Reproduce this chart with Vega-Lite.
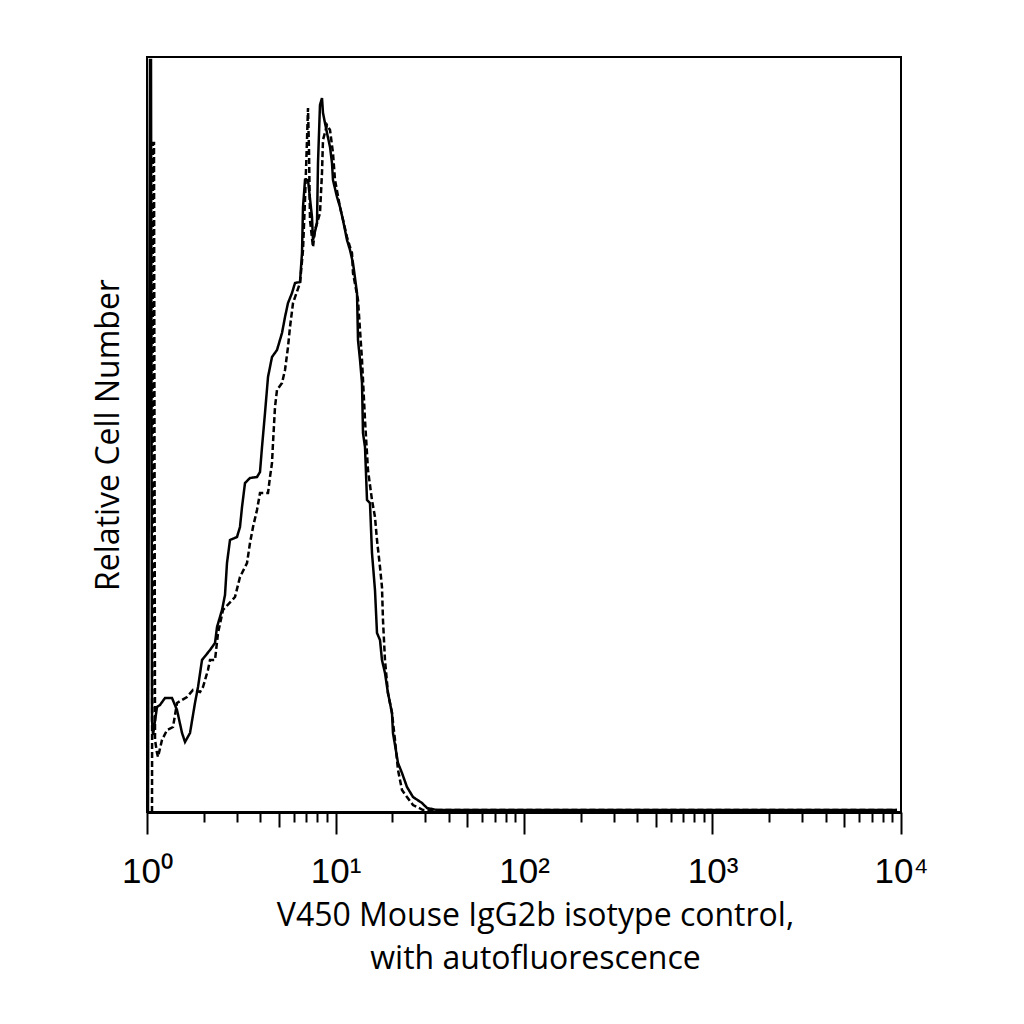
{
  "$schema": "https://vega.github.io/schema/vega-lite/v6.json",
  "autosize": "none",
  "width": 754,
  "height": 755,
  "padding": {"left": 147, "top": 57, "right": 123, "bottom": 212},
  "background": "white",
  "data": {
    "values": [
      {"series": "solid", "fl": 1.012, "count": 0},
      {"series": "solid", "fl": 1.037, "count": 752},
      {"series": "solid", "fl": 1.050, "count": 752},
      {"series": "solid", "fl": 1.063, "count": 92},
      {"series": "solid", "fl": 1.076, "count": 77},
      {"series": "solid", "fl": 1.130, "count": 105},
      {"series": "solid", "fl": 1.172, "count": 107},
      {"series": "solid", "fl": 1.246, "count": 114},
      {"series": "solid", "fl": 1.357, "count": 114},
      {"series": "solid", "fl": 1.443, "count": 102},
      {"series": "solid", "fl": 1.534, "count": 79},
      {"series": "solid", "fl": 1.591, "count": 70},
      {"series": "solid", "fl": 1.691, "count": 79},
      {"series": "solid", "fl": 1.797, "count": 109},
      {"series": "solid", "fl": 1.865, "count": 125},
      {"series": "solid", "fl": 1.958, "count": 152},
      {"series": "solid", "fl": 2.159, "count": 162},
      {"series": "solid", "fl": 2.295, "count": 169},
      {"series": "solid", "fl": 2.352, "count": 185},
      {"series": "solid", "fl": 2.500, "count": 202},
      {"series": "solid", "fl": 2.593, "count": 217},
      {"series": "solid", "fl": 2.657, "count": 249},
      {"series": "solid", "fl": 2.756, "count": 272},
      {"series": "solid", "fl": 3.002, "count": 275},
      {"series": "solid", "fl": 3.114, "count": 285},
      {"series": "solid", "fl": 3.192, "count": 305},
      {"series": "solid", "fl": 3.311, "count": 329},
      {"series": "solid", "fl": 3.519, "count": 334},
      {"series": "solid", "fl": 3.833, "count": 335},
      {"series": "solid", "fl": 3.976, "count": 340},
      {"series": "solid", "fl": 4.075, "count": 365},
      {"series": "solid", "fl": 4.227, "count": 399},
      {"series": "solid", "fl": 4.385, "count": 435},
      {"series": "solid", "fl": 4.604, "count": 455},
      {"series": "solid", "fl": 4.894, "count": 462},
      {"series": "solid", "fl": 5.203, "count": 479},
      {"series": "solid", "fl": 5.397, "count": 495},
      {"series": "solid", "fl": 5.598, "count": 509},
      {"series": "solid", "fl": 5.879, "count": 519},
      {"series": "solid", "fl": 6.098, "count": 529},
      {"series": "solid", "fl": 6.482, "count": 530},
      {"series": "solid", "fl": 6.642, "count": 559},
      {"series": "solid", "fl": 6.724, "count": 605},
      {"series": "solid", "fl": 6.890, "count": 632},
      {"series": "solid", "fl": 7.147, "count": 632},
      {"series": "solid", "fl": 7.504, "count": 595},
      {"series": "solid", "fl": 7.596, "count": 572},
      {"series": "solid", "fl": 7.977, "count": 589},
      {"series": "solid", "fl": 8.075, "count": 649},
      {"series": "solid", "fl": 8.274, "count": 707},
      {"series": "solid", "fl": 8.479, "count": 714},
      {"series": "solid", "fl": 8.583, "count": 699},
      {"series": "solid", "fl": 9.015, "count": 679},
      {"series": "solid", "fl": 9.352, "count": 665},
      {"series": "solid", "fl": 9.581, "count": 649},
      {"series": "solid", "fl": 9.698, "count": 632},
      {"series": "solid", "fl": 10.186, "count": 615},
      {"series": "solid", "fl": 10.565, "count": 605},
      {"series": "solid", "fl": 10.959, "count": 592},
      {"series": "solid", "fl": 11.508, "count": 572},
      {"series": "solid", "fl": 11.937, "count": 562},
      {"series": "solid", "fl": 12.382, "count": 549},
      {"series": "solid", "fl": 13.005, "count": 519},
      {"series": "solid", "fl": 13.163, "count": 472},
      {"series": "solid", "fl": 13.490, "count": 452},
      {"series": "solid", "fl": 13.823, "count": 429},
      {"series": "solid", "fl": 13.990, "count": 379},
      {"series": "solid", "fl": 14.339, "count": 365},
      {"series": "solid", "fl": 14.694, "count": 312},
      {"series": "solid", "fl": 15.240, "count": 309},
      {"series": "solid", "fl": 15.616, "count": 259},
      {"series": "solid", "fl": 16.198, "count": 222},
      {"series": "solid", "fl": 16.601, "count": 179},
      {"series": "solid", "fl": 17.220, "count": 172},
      {"series": "solid", "fl": 17.643, "count": 152},
      {"series": "solid", "fl": 18.301, "count": 139},
      {"series": "solid", "fl": 18.983, "count": 119},
      {"series": "solid", "fl": 19.937, "count": 99},
      {"series": "solid", "fl": 20.180, "count": 79},
      {"series": "solid", "fl": 21.198, "count": 55},
      {"series": "solid", "fl": 21.458, "count": 49},
      {"series": "solid", "fl": 22.530, "count": 39},
      {"series": "solid", "fl": 23.946, "count": 25},
      {"series": "solid", "fl": 25.77, "count": 15},
      {"series": "solid", "fl": 28.77, "count": 9},
      {"series": "solid", "fl": 30.58, "count": 4},
      {"series": "solid", "fl": 34.55, "count": 2},
      {"series": "solid", "fl": 9524, "count": 2},
      {"series": "dashed", "fl": 1.063, "count": 0},
      {"series": "dashed", "fl": 1.076, "count": 669},
      {"series": "dashed", "fl": 1.089, "count": 669},
      {"series": "dashed", "fl": 1.103, "count": 72},
      {"series": "dashed", "fl": 1.130, "count": 59},
      {"series": "dashed", "fl": 1.144, "count": 55},
      {"series": "dashed", "fl": 1.201, "count": 72},
      {"series": "dashed", "fl": 1.277, "count": 82},
      {"series": "dashed", "fl": 1.374, "count": 85},
      {"series": "dashed", "fl": 1.443, "count": 109},
      {"series": "dashed", "fl": 1.630, "count": 115},
      {"series": "dashed", "fl": 1.754, "count": 122},
      {"series": "dashed", "fl": 1.911, "count": 120},
      {"series": "dashed", "fl": 1.982, "count": 125},
      {"series": "dashed", "fl": 2.106, "count": 142},
      {"series": "dashed", "fl": 2.159, "count": 152},
      {"series": "dashed", "fl": 2.295, "count": 152},
      {"series": "dashed", "fl": 2.381, "count": 179},
      {"series": "dashed", "fl": 2.530, "count": 202},
      {"series": "dashed", "fl": 2.930, "count": 215},
      {"series": "dashed", "fl": 3.114, "count": 235},
      {"series": "dashed", "fl": 3.393, "count": 249},
      {"series": "dashed", "fl": 3.519, "count": 269},
      {"series": "dashed", "fl": 3.651, "count": 285},
      {"series": "dashed", "fl": 3.833, "count": 302},
      {"series": "dashed", "fl": 3.976, "count": 319},
      {"series": "dashed", "fl": 4.385, "count": 319},
      {"series": "dashed", "fl": 4.493, "count": 335},
      {"series": "dashed", "fl": 4.604, "count": 349},
      {"series": "dashed", "fl": 4.661, "count": 369},
      {"series": "dashed", "fl": 4.776, "count": 405},
      {"series": "dashed", "fl": 4.894, "count": 422},
      {"series": "dashed", "fl": 5.203, "count": 429},
      {"series": "dashed", "fl": 5.397, "count": 442},
      {"series": "dashed", "fl": 5.598, "count": 465},
      {"series": "dashed", "fl": 5.737, "count": 485},
      {"series": "dashed", "fl": 5.951, "count": 509},
      {"series": "dashed", "fl": 6.482, "count": 529},
      {"series": "dashed", "fl": 6.724, "count": 562},
      {"series": "dashed", "fl": 6.890, "count": 612},
      {"series": "dashed", "fl": 7.060, "count": 672},
      {"series": "dashed", "fl": 7.147, "count": 704},
      {"series": "dashed", "fl": 7.234, "count": 662},
      {"series": "dashed", "fl": 7.323, "count": 592},
      {"series": "dashed", "fl": 7.596, "count": 565},
      {"series": "dashed", "fl": 7.784, "count": 582},
      {"series": "dashed", "fl": 8.274, "count": 599},
      {"series": "dashed", "fl": 8.479, "count": 639},
      {"series": "dashed", "fl": 8.583, "count": 672},
      {"series": "dashed", "fl": 9.015, "count": 687},
      {"series": "dashed", "fl": 9.352, "count": 682},
      {"series": "dashed", "fl": 9.698, "count": 659},
      {"series": "dashed", "fl": 9.940, "count": 632},
      {"series": "dashed", "fl": 10.565, "count": 605},
      {"series": "dashed", "fl": 11.508, "count": 575},
      {"series": "dashed", "fl": 11.937, "count": 565},
      {"series": "dashed", "fl": 12.231, "count": 559},
      {"series": "dashed", "fl": 12.382, "count": 539},
      {"series": "dashed", "fl": 13.163, "count": 512},
      {"series": "dashed", "fl": 13.823, "count": 452},
      {"series": "dashed", "fl": 14.339, "count": 392},
      {"series": "dashed", "fl": 14.870, "count": 342},
      {"series": "dashed", "fl": 15.616, "count": 312},
      {"series": "dashed", "fl": 16.198, "count": 295},
      {"series": "dashed", "fl": 16.601, "count": 272},
      {"series": "dashed", "fl": 17.220, "count": 245},
      {"series": "dashed", "fl": 17.643, "count": 225},
      {"series": "dashed", "fl": 17.860, "count": 192},
      {"series": "dashed", "fl": 18.301, "count": 152},
      {"series": "dashed", "fl": 18.983, "count": 119},
      {"series": "dashed", "fl": 19.937, "count": 99},
      {"series": "dashed", "fl": 20.682, "count": 72},
      {"series": "dashed", "fl": 21.458, "count": 42},
      {"series": "dashed", "fl": 22.530, "count": 22},
      {"series": "dashed", "fl": 23.946, "count": 15},
      {"series": "dashed", "fl": 25.77, "count": 7},
      {"series": "dashed", "fl": 29.12, "count": 2},
      {"series": "dashed", "fl": 9524, "count": 2}
    ]
  },
  "mark": {"type": "line", "color": "black", "strokeWidth": 2.5, "clip": true},
  "encoding": {
    "x": {
      "field": "fl",
      "type": "quantitative",
      "scale": {"type": "log", "domain": [1, 10000], "nice": false},
      "axis": {
        "title": ["V450 Mouse IgG2b isotype control,", "with autofluorescence"],
        "titleFont": "Open Sans",
        "titleFontSize": 32,
        "titleFontWeight": "normal",
        "titleColor": "black",
        "titleLineHeight": 43,
        "titlePadding": 11,
        "titleX": 388,
        "values": [1, 2, 3, 4, 5, 6, 7, 8, 9, 10, 20, 30, 40, 50, 60, 70, 80, 90, 100, 200, 300, 400, 500, 600, 700, 800, 900, 1000, 2000, 3000, 4000, 5000, 6000, 7000, 8000, 9000, 10000],
        "labelExpr": "datum.value == 1 ? '10⁰' : datum.value == 10 ? '10¹' : datum.value == 100 ? '10²' : datum.value == 1000 ? '10³' : datum.value == 10000 ? '10⁴' : ''",
        "labelFont": "Liberation Sans",
        "labelFontSize": 35,
        "labelColor": "black",
        "labelOverlap": false,
        "labelFlush": false,
        "labelBound": false,
        "labelPadding": 20,
        "grid": false,
        "domainColor": "black",
        "domainWidth": 3,
        "tickColor": "black",
        "tickWidth": 2,
        "tickSize": {
          "condition": [
            {"test": "indexof([1, 10, 100, 1000, 10000], datum.value) >= 0", "value": 22},
            {"test": "indexof([5, 50, 500, 5000], datum.value) >= 0", "value": 15}
          ],
          "value": 10
        }
      }
    },
    "y": {
      "field": "count",
      "type": "quantitative",
      "scale": {"domain": [0, 755], "nice": false},
      "axis": {
        "title": "Relative Cell Number",
        "titleFont": "Open Sans",
        "titleFontSize": 32,
        "titleFontWeight": "normal",
        "titleColor": "black",
        "titlePadding": 22,
        "labels": false,
        "ticks": false,
        "domain": false,
        "grid": false
      }
    },
    "strokeDash": {
      "field": "series",
      "type": "nominal",
      "scale": {"domain": ["solid", "dashed"], "range": [[1, 0], [6, 3]]},
      "legend": null
    }
  },
  "config": {
    "view": {"stroke": "black", "strokeWidth": 2}
  }
}
